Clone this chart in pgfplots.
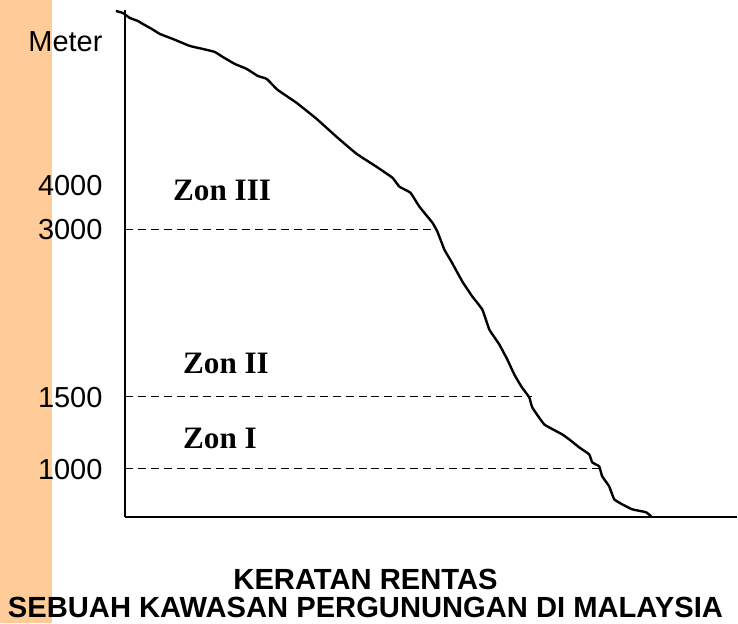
\documentclass[border=0pt]{standalone}
\usepackage{fontspec}
\setmainfont{Liberation Sans}
\newfontfamily\serifb{Liberation Serif}
\usepackage{pgfplots}
\pgfplotsset{compat=1.18}
\definecolor{strip}{HTML}{FFCC99}
\begin{document}
\begin{tikzpicture}
\fill[strip] (0,0) rectangle (26pt,312pt);
\path (0,0) rectangle (369pt,312pt);
\begin{axis}[
  at={(62.5pt,53pt)}, anchor=south west,
  scale only axis, width=306.5pt, height=254pt,
  xmin=125, xmax=738, ymin=106, ymax=614,
  axis lines=left,
  axis line style={-, line width=1pt},
  xtick=\empty,
  ytick={582,438,394,226,154},
  yticklabels={Meter,4000,3000,1500,1000},
  major tick length=0pt,
  yticklabel style={inner sep=0pt, xshift=-11pt, font=\fontsize{14.5}{16}\selectfont},
  clip=false,
]
\addplot[black, line width=1.2pt, smooth, tension=0.2] coordinates {
(116,613) (123,611) (130,606) (138,603) (143,600) (152,595) (160,590) (173,585)
(190,578) (203,575) (215,572) (223,567) (235,560) (247,555) (258,548) (267,545)
(278,534) (297,521) (317,505) (337,487) (357,470) (377,457) (393,446) (400,437)
(411,431) (420,417) (433,401) (438,392) (445,374) (452,362) (463,342) (473,327)
(483,314) (490,294) (500,279) (508,264) (515,249) (522,237) (530,226) (533,216)
(545,199) (563,189) (570,184) (580,176) (590,169) (593,161) (600,157) (603,147)
(610,137) (615,124) (623,119) (633,114) (647,111) (653,106)
};
\addplot[black, line width=0.7pt, dash pattern=on 4pt off 2.5pt] coordinates {(125,394) (437,394)};
\addplot[black, line width=0.7pt, dash pattern=on 4pt off 2.5pt] coordinates {(125,227) (533,227)};
\addplot[black, line width=0.7pt, dash pattern=on 4pt off 2.5pt] coordinates {(125,155) (602,155)};
\node[anchor=west, inner sep=0pt, font=\serifb\bfseries\fontsize{15.6}{17}\selectfont] at (axis cs:173,433) {Zon III};
\node[anchor=west, inner sep=0pt, font=\serifb\bfseries\fontsize{15.6}{17}\selectfont] at (axis cs:183,260) {Zon II};
\node[anchor=west, inner sep=0pt, font=\serifb\bfseries\fontsize{15.6}{17}\selectfont] at (axis cs:183,185) {Zon I};
\node[inner sep=0pt, font=\bfseries\fontsize{14.6}{16}\selectfont] at (axis cs:366,44) {KERATAN RENTAS};
\node[inner sep=0pt, font=\bfseries\fontsize{14.6}{16}\selectfont] at (axis cs:366,16) {SEBUAH KAWASAN PERGUNUNGAN DI MALAYSIA};
\end{axis}
\end{tikzpicture}
\end{document}
